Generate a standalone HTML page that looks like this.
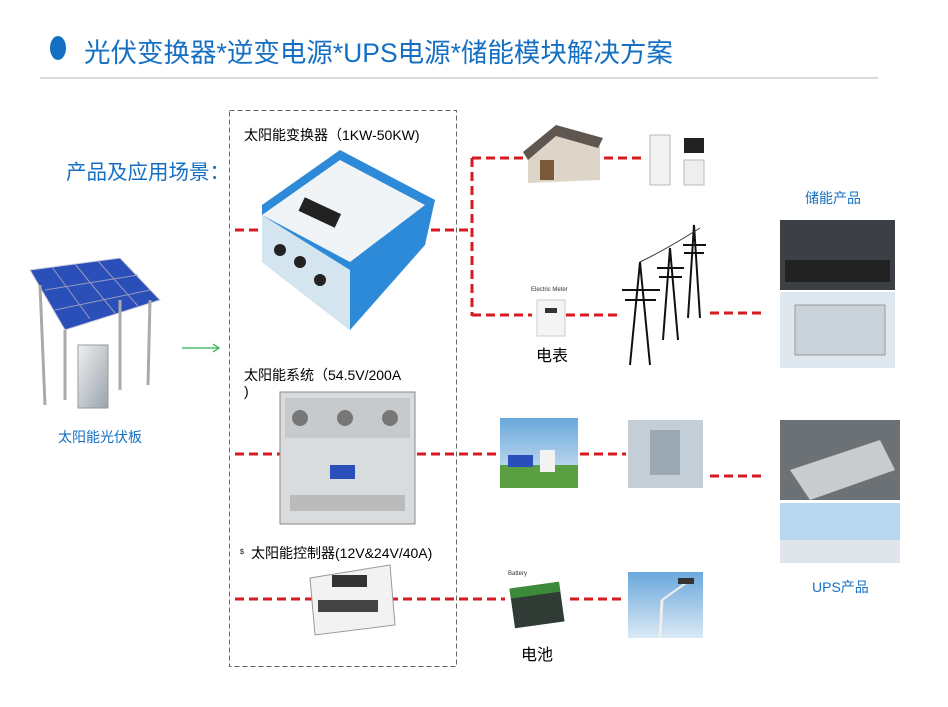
<!DOCTYPE html>
<html><head><meta charset="utf-8"><style>
html,body{margin:0;padding:0;background:#fff;width:948px;height:707px;overflow:hidden;position:relative;font-family:"Liberation Sans","Noto Sans CJK SC",sans-serif}
.t{position:absolute;white-space:nowrap}
</style></head><body>
<svg width="948" height="707" style="position:absolute;left:0;top:0">
<defs>
<linearGradient id="sky" x1="0" y1="0" x2="0" y2="1"><stop offset="0" stop-color="#6aa8dc"/><stop offset="1" stop-color="#dbe9f5"/></linearGradient>
<linearGradient id="met" x1="0" y1="0" x2="1" y2="1"><stop offset="0" stop-color="#eef0f2"/><stop offset="1" stop-color="#9aa3ab"/></linearGradient>
</defs>
<ellipse cx="58" cy="48" rx="8" ry="12" fill="#1570c4"/>
<line x1="40" y1="78" x2="878" y2="78" stroke="#b5b5b5" stroke-width="1"/>
<rect x="229.5" y="110.5" width="227" height="556" fill="none" stroke="#666" stroke-dasharray="5,3"/>
<g stroke="#d71920" stroke-width="3" stroke-dasharray="9,5" fill="none">
<line x1="235" y1="230" x2="470" y2="230"/>
<line x1="472" y1="158" x2="472" y2="316"/>
<line x1="472" y1="158" x2="525" y2="158"/>
<line x1="604" y1="158" x2="645" y2="158"/>
<line x1="472" y1="315" x2="532" y2="315"/>
<line x1="566" y1="315" x2="620" y2="315"/>
<line x1="710" y1="313" x2="762" y2="313"/>
<line x1="235" y1="454" x2="498" y2="454"/>
<line x1="580" y1="454" x2="626" y2="454"/>
<line x1="710" y1="476" x2="762" y2="476"/>
<line x1="235" y1="599" x2="505" y2="599"/>
<line x1="570" y1="599" x2="626" y2="599"/>
</g>
<line x1="182" y1="348" x2="218" y2="348" stroke="#2db34a" stroke-width="1.2"/>
<path d="M213 344 L219 348 L213 352" fill="none" stroke="#2db34a" stroke-width="1.2"/>
<polygon points="30,270 120,258 160,300 65,330" fill="#2a4fb8" stroke="#ccd" stroke-width="1"/>
<g stroke="#99b" stroke-width="1"><line x1="52" y1="267" x2="90" y2="319"/><line x1="75" y1="264" x2="115" y2="313"/><line x1="98" y1="261" x2="138" y2="306"/><line x1="45" y1="290" x2="138" y2="275"/><line x1="55" y1="310" x2="150" y2="290"/></g>
<g stroke="#aaa" stroke-width="3"><line x1="40" y1="285" x2="45" y2="405"/><line x1="65" y1="330" x2="65" y2="400"/><line x1="150" y1="300" x2="148" y2="385"/><line x1="120" y1="300" x2="120" y2="390"/></g>
<rect x="78" y="345" width="30" height="63" fill="url(#met)" stroke="#999"/>
<polygon points="262,205 340,150 435,200 425,245 350,330 262,262" fill="#2d8ad8"/>
<polygon points="262,215 340,160 425,205 350,262" fill="#f1f4f7"/>
<rect x="300" y="205" width="40" height="15" fill="#222" transform="rotate(25 320 212)"/>
<polygon points="262,262 350,330 350,270 262,215" fill="#e8eef3" opacity=".9"/>
<circle cx="280" cy="250" r="6" fill="#222"/><circle cx="300" cy="262" r="6" fill="#222"/><circle cx="320" cy="280" r="6" fill="#222"/>
<rect x="280" y="392" width="135" height="132" fill="#d9dcdf" stroke="#888"/>
<rect x="285" y="398" width="125" height="40" fill="#c7cacd"/>
<circle cx="300" cy="418" r="8" fill="#777"/><circle cx="345" cy="418" r="8" fill="#777"/><circle cx="390" cy="418" r="8" fill="#777"/>
<rect x="290" y="495" width="115" height="16" fill="#bbb"/>
<rect x="330" y="465" width="25" height="14" fill="#2a4fb8"/>
<polygon points="310,578 390,565 395,625 315,635" fill="#f2f2f2" stroke="#999"/>
<rect x="332" y="575" width="35" height="12" fill="#333"/>
<rect x="318" y="600" width="60" height="12" fill="#444"/>
<polygon points="528,150 555,128 600,140 600,180 528,183" fill="#ddd5c7"/>
<polygon points="523,152 556,125 603,138 598,148 556,136 528,160" fill="#5e564f"/>
<rect x="540" y="160" width="14" height="20" fill="#7a5a3a"/>
<rect x="650" y="135" width="20" height="50" fill="#f2f2f2" stroke="#bbb"/>
<rect x="684" y="138" width="20" height="15" fill="#222"/>
<rect x="684" y="160" width="20" height="25" fill="#eee" stroke="#bbb"/>
<rect x="537" y="300" width="28" height="36" fill="#f4f4f4" stroke="#ccc"/>
<rect x="545" y="308" width="12" height="5" fill="#333"/>
<g stroke="#111" stroke-width="2" fill="none">
<path d="M630 365 L640 262 L650 365"/><line x1="622" y1="290" x2="660" y2="290"/><line x1="625" y1="300" x2="656" y2="300"/>
<path d="M663 340 L670 248 L678 340"/><line x1="657" y1="268" x2="684" y2="268"/><line x1="659" y1="277" x2="682" y2="277"/>
<path d="M688 318 L694 225 L700 318"/><line x1="683" y1="245" x2="706" y2="245"/><line x1="684" y1="253" x2="704" y2="253"/>
</g>
<path d="M640 262 Q 665 250 700 228" stroke="#333" fill="none"/>
<rect x="780" y="220" width="115" height="70" fill="#3c3f44"/>
<rect x="785" y="260" width="105" height="22" fill="#222"/>
<rect x="780" y="292" width="115" height="76" fill="#dfe8ef"/>
<rect x="795" y="305" width="90" height="50" fill="#cbd3da" stroke="#999"/>
<rect x="500" y="418" width="78" height="70" fill="url(#sky)"/>
<rect x="500" y="465" width="78" height="23" fill="#5aa043"/>
<rect x="508" y="455" width="25" height="12" fill="#2a4fb8"/>
<rect x="540" y="450" width="15" height="22" fill="#f2f2f2"/>
<rect x="628" y="420" width="75" height="68" fill="#c3ced6"/>
<rect x="650" y="430" width="30" height="45" fill="#9aa8b3"/>
<rect x="512" y="585" width="50" height="40" fill="#2f3b34" transform="rotate(-8 537 605)"/>
<rect x="512" y="585" width="50" height="10" fill="#3a8a3a" transform="rotate(-8 537 605)"/>
<rect x="628" y="572" width="75" height="66" fill="url(#sky)"/>
<line x1="660" y1="638" x2="662" y2="600" stroke="#eee" stroke-width="3"/>
<path d="M662 600 L686 583" stroke="#eee" stroke-width="2"/>
<rect x="678" y="578" width="16" height="6" fill="#333"/>
<rect x="780" y="420" width="120" height="80" fill="#6c7176"/>
<polygon points="790,470 880,440 895,470 810,500" fill="#c9ccce"/>
<rect x="780" y="503" width="120" height="60" fill="#b9d8ef"/>
<rect x="780" y="540" width="120" height="23" fill="#dfe5ea"/>
</svg>
<div class="t" style="left:84px;top:31px;font-size:26.5px;color:#1570c4">光伏变换器*逆变电源*UPS电源*储能模块解决方案</div>
<div class="t" style="left:66px;top:155px;font-size:20.5px;color:#1570c4">产品及应用场景：</div>
<div class="t" style="left:244px;top:125px;font-size:14px">太阳能变换器（1KW-50KW)</div>
<div class="t" style="left:244px;top:365px;font-size:14px">太阳能系统（54.5V/200A</div>
<div class="t" style="left:244px;top:383px;font-size:14px">)</div>
<div class="t" style="left:240px;top:549px;font-size:7px">$</div>
<div class="t" style="left:251px;top:543px;font-size:14px">太阳能控制器(12V&amp;24V/40A)</div>
<div class="t" style="left:58px;top:427px;font-size:14px;color:#1570c4">太阳能光伏板</div>
<div class="t" style="left:536px;top:342px;font-size:16px">电表</div>
<div class="t" style="left:531px;top:287px;font-size:6px;color:#333">Electric Meter</div>
<div class="t" style="left:521px;top:641px;font-size:16px">电池</div>
<div class="t" style="left:508px;top:571px;font-size:6px;color:#333">Battery</div>
<div class="t" style="left:805px;top:188px;font-size:14px;color:#1570c4">储能产品</div>
<div class="t" style="left:812px;top:577px;font-size:14px;color:#1570c4">UPS产品</div>
</body></html>
